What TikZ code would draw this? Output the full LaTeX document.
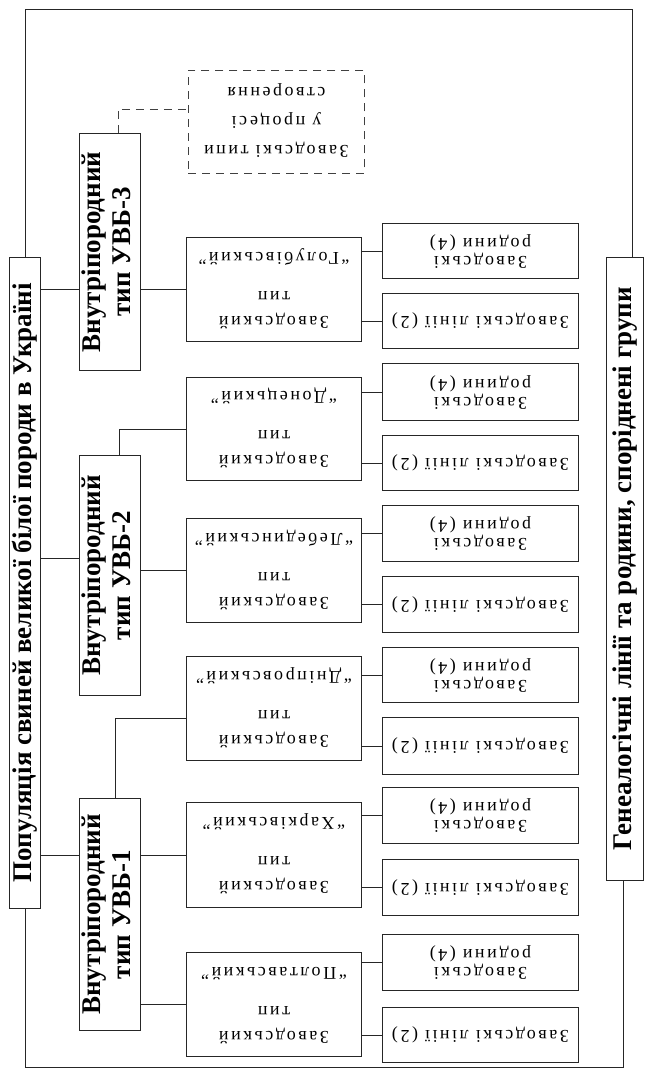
\documentclass[tikz,border=0pt]{standalone}
\usepackage{graphicx}
\usepackage{fontspec}
\setmainfont{Liberation Serif}
\newfontfamily\spaced[LetterSpace=14]{Liberation Serif}
\usetikzlibrary{calc}
\newcommand\bigbold{\fontsize{27}{30}\selectfont\bfseries}
\newcommand\smalltxt{\spaced\fontsize{18}{18}\selectfont}
\newcommand\typetxt[1]{\rotatebox{180}{\smalltxt\fontsize{18}{25}\selectfont\begin{tabular}{@{}c@{}}Заводський\\ тип\\[14pt] #1\end{tabular}}}
\newcommand\linestxt{\rotatebox{180}{\smalltxt Заводські лінії (2)}}
\newcommand\famtxt{\rotatebox{180}{\smalltxt\begin{tabular}{@{}c@{}}Заводські\\ родини (4)\end{tabular}}}
\begin{document}
\begin{tikzpicture}[x=1pt,y=-1pt,line width=0.9pt,
  box/.style={draw=black!85, inner sep=0pt, anchor=north west},
  wire/.style={draw=black!85},
  dwire/.style={draw=black!75, dash pattern=on 8pt off 6pt}]
\fill[white] (0,0) rectangle (646,1072);
\useasboundingbox (0,0) rectangle (646,1072);

% main boxes
\node[box, minimum width=31, minimum height=651] (T) at (9,257)
  {\rotatebox{90}{\bigbold Популяція свиней великої білої породи в Україні}};
\node[box, minimum width=37, minimum height=623] (R) at (606,257)
  {\rotatebox{90}{\bigbold Генеалогічні лінії та родини, споріднені групи}};

% intra-breed types
\node[box, minimum width=61, minimum height=237] (U3) at (79,133)
  {\rotatebox{90}{\bigbold\begin{tabular}{@{}c@{}}Внутріпородний\\ тип УВБ-3\end{tabular}}};
\node[box, minimum width=61, minimum height=240] (U2) at (79,455)
  {\rotatebox{90}{\bigbold\begin{tabular}{@{}c@{}}Внутріпородний\\ тип УВБ-2\end{tabular}}};
\node[box, minimum width=61, minimum height=232] (U1) at (79,798)
  {\rotatebox{90}{\bigbold\begin{tabular}{@{}c@{}}Внутріпородний\\ тип УВБ-1\end{tabular}}};

% dashed box
\node[box, draw=black!75, dash pattern=on 8pt off 6pt, minimum width=176, minimum height=103] (D) at (188,70)
  {\rotatebox{180}{\smalltxt\fontsize{18}{29}\selectfont\begin{tabular}{@{}c@{}}Заводські типи\\ у процесі\\ створення\end{tabular}}};

% factory types
\node[box, minimum width=175, minimum height=104] (G) at (186,237) {\typetxt{“Голубівський”}};
\node[box, minimum width=175, minimum height=103] (Don) at (186,377) {\typetxt{“Донецький”}};
\node[box, minimum width=175, minimum height=104] (Leb) at (186,518) {\typetxt{“Лебединський”}};
\node[box, minimum width=175, minimum height=104] (Dni) at (186,656) {\typetxt{“Дніпровський”}};
\node[box, minimum width=175, minimum height=105] (Khar) at (186,802) {\typetxt{“Харківський”}};
\node[box, minimum width=175, minimum height=104] (Pol) at (186,952) {\typetxt{“Полтавський”}};

% lines and families
\node[box, minimum width=196, minimum height=55] (GR) at (382,223) {\famtxt};
\node[box, minimum width=196, minimum height=55] (GL) at (382,293) {\linestxt};
\node[box, minimum width=196, minimum height=57] (DonR) at (382,363) {\famtxt};
\node[box, minimum width=196, minimum height=55] (DonL) at (382,435) {\linestxt};
\node[box, minimum width=196, minimum height=56] (LebR) at (382,505) {\famtxt};
\node[box, minimum width=196, minimum height=56] (LebL) at (382,576) {\linestxt};
\node[box, minimum width=196, minimum height=55] (DniR) at (382,647) {\famtxt};
\node[box, minimum width=196, minimum height=57] (DniL) at (382,717) {\linestxt};
\node[box, minimum width=196, minimum height=56] (KharR) at (382,787) {\famtxt};
\node[box, minimum width=196, minimum height=56] (KharL) at (382,859) {\linestxt};
\node[box, minimum width=196, minimum height=56] (PolR) at (382,934) {\famtxt};
\node[box, minimum width=196, minimum height=55] (PolL) at (382,1007) {\linestxt};

% outer frame
\coordinate (topY) at (0,9);
\coordinate (botY) at (0,1067);
\draw[wire] (T.north) -- (T.north |- topY) -| ([xshift=7.5pt]R.north);
\draw[wire] (T.south) -- (T.south |- botY) -| ([xshift=-1.5pt]R.south);

% title to types
\draw[wire] (T.east |- G.west) -- (U3.west |- G.west);
\draw[wire] (U3.east |- G.west) -- (G.west);
\coordinate (u2in) at ([yshift=17pt]U2.west);
\draw[wire] (T.east |- u2in) -- (u2in);
\draw[wire] (U2.east |- Leb.west) -- (Leb.west);
\draw[wire] (T.east |- Khar.west) -- (U1.west |- Khar.west);
\draw[wire] (U1.east |- Khar.west) -- (Khar.west);
\draw[wire] (U1.east |- Pol.west) -- (Pol.west);
\draw[wire] ([xshift=5pt]U1.north) |- ([yshift=-10pt]Dni.west);
\draw[wire] ([xshift=9pt]U2.north) |- (Don.west);
\draw[dwire] ([xshift=8pt]U3.north) |- ([yshift=13pt]D.west);

% types to lines/families
\foreach \t/\s in {G/GR,G/GL,Don/DonR,Don/DonL,Leb/LebR,Leb/LebL,Dni/DniR,Dni/DniL,Khar/KharR,Khar/KharL,Pol/PolR,Pol/PolL}
  \draw[wire] (\s.west) -- (\s.west -| \t.east);
\end{tikzpicture}
\end{document}
